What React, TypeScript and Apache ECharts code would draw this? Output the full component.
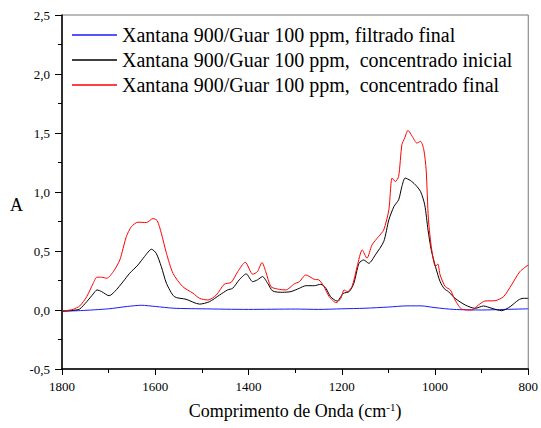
import React, { useEffect, useRef } from "react";
import * as echarts from "echarts";

const seriesNames = [
  "Xantana 900/Guar 100 ppm, filtrado final",
  "Xantana 900/Guar 100 ppm,  concentrado inicial",
  "Xantana 900/Guar 100 ppm,  concentrado final",
];

const blueWn = [1800, 1760, 1700, 1660, 1630, 1600, 1560, 1500, 1400, 1300, 1250, 1200, 1150, 1100, 1060, 1030, 1000, 960, 900, 850, 800];
const blueVal = [-0.01, -0.005, 0.01, 0.03, 0.04, 0.03, 0.015, 0.01, 0.005, 0.008, 0.005, 0.01, 0.015, 0.025, 0.035, 0.035, 0.02, 0.005, 0.0, 0.005, 0.01];

const blackWn = [1800, 1780, 1770, 1762, 1747, 1733, 1725, 1715, 1699, 1687, 1669, 1655, 1637, 1623, 1608, 1598, 1587, 1576, 1559, 1534, 1505, 1484, 1462, 1445, 1434, 1420, 1405, 1391, 1381, 1370, 1359, 1348, 1327, 1309, 1291, 1277, 1259, 1245, 1234, 1224, 1210, 1197, 1184, 1174, 1163, 1153, 1142, 1128, 1110, 1099, 1088, 1078, 1071, 1064, 1053, 1042, 1031, 1022, 1015, 1008, 999, 989, 980, 971, 957, 935, 914, 896, 878, 857, 839, 821, 811, 800];
const blackVal = [-0.01, -0.005, 0.0, 0.008, 0.07, 0.136, 0.17, 0.156, 0.121, 0.156, 0.24, 0.311, 0.382, 0.453, 0.515, 0.481, 0.368, 0.227, 0.113, 0.091, 0.05, 0.07, 0.127, 0.17, 0.184, 0.255, 0.306, 0.24, 0.255, 0.283, 0.227, 0.161, 0.15, 0.156, 0.184, 0.206, 0.206, 0.218, 0.184, 0.113, 0.075, 0.14, 0.156, 0.227, 0.396, 0.424, 0.396, 0.467, 0.58, 0.764, 0.877, 0.934, 1.047, 1.118, 1.098, 1.061, 1.004, 0.891, 0.679, 0.509, 0.368, 0.24, 0.18, 0.155, 0.099, 0.042, 0.014, 0.034, 0.014, -0.006, 0.028, 0.085, 0.099, 0.099];

const redWn = [1800, 1790, 1776, 1762, 1747, 1733, 1725, 1715, 1704, 1690, 1676, 1662, 1651, 1637, 1619, 1605, 1596, 1587, 1576, 1562, 1541, 1519, 1505, 1487, 1469, 1452, 1437, 1423, 1407, 1391, 1381, 1371, 1363, 1352, 1338, 1320, 1302, 1291, 1277, 1259, 1249, 1238, 1227, 1212, 1202, 1195, 1188, 1178, 1167, 1156, 1146, 1135, 1121, 1110, 1099, 1092, 1085, 1078, 1071, 1065, 1058, 1048, 1039, 1031, 1024, 1019, 1014, 1007, 999, 994, 989, 978, 967, 957, 942, 921, 907, 893, 871, 853, 836, 818, 800];
const redVal = [-0.01, -0.005, 0.006, 0.034, 0.113, 0.227, 0.278, 0.278, 0.269, 0.325, 0.424, 0.622, 0.707, 0.744, 0.741, 0.775, 0.758, 0.651, 0.481, 0.311, 0.198, 0.142, 0.099, 0.085, 0.127, 0.218, 0.235, 0.325, 0.405, 0.303, 0.325, 0.402, 0.325, 0.198, 0.178, 0.17, 0.221, 0.24, 0.297, 0.26, 0.255, 0.198, 0.113, 0.062, 0.099, 0.17, 0.156, 0.198, 0.368, 0.509, 0.439, 0.552, 0.622, 0.679, 0.849, 1.118, 1.089, 1.132, 1.401, 1.457, 1.522, 1.466, 1.415, 1.429, 1.358, 1.188, 0.764, 0.509, 0.368, 0.39, 0.297, 0.198, 0.17, 0.085, 0.006, 0.0, 0.042, 0.076, 0.079, 0.113, 0.212, 0.325, 0.382];

const colors = ["#1a1aff", "#000000", "#ff0000"];

const pair = (xs: number[], ys: number[]) => xs.map((x, i) => [x, ys[i]]);

const FONT = "'Liberation Serif', 'Times New Roman', 'DejaVu Serif', serif";

export default function App() {
  const ref = useRef<HTMLDivElement>(null);
  useEffect(() => {
    if (!ref.current) return;
    const chart = echarts.init(ref.current, null, { renderer: "svg" });
    const datasets = [pair(blueWn, blueVal), pair(blackWn, blackVal), pair(redWn, redVal)];
    chart.setOption({
      animation: false,
      backgroundColor: "#ffffff",
      textStyle: { fontFamily: FONT, color: "#000" },
      grid: {
        left: 62,
        right: 11,
        top: 15,
        bottom: 59,
        show: true,
        borderColor: "#777777",
        borderWidth: 1,
      },
      legend: {
        orient: "vertical",
        left: 72,
        top: 25,
        padding: 0,
        itemGap: 5,
        itemWidth: 45,
        itemHeight: 1.5,
        icon: "rect",
        data: seriesNames,
        textStyle: { fontFamily: FONT, fontSize: 20, color: "#000" },
      },
      xAxis: {
        type: "value",
        inverse: true,
        min: 800,
        max: 1800,
        interval: 200,
        name: "Comprimento de Onda (cm{sup|-1})",
        nameLocation: "middle",
        nameGap: 32,
        nameTextStyle: {
          fontFamily: FONT,
          fontSize: 18,
          color: "#000",
          rich: { sup: { fontFamily: FONT, fontSize: 11, verticalAlign: "top", padding: [0, 0, 8, 0], color: "#000" } },
        },
        axisLine: { show: true, onZero: false, lineStyle: { color: "#000", width: 1.5 } },
        axisTick: { show: true, inside: false, length: 6, lineStyle: { color: "#000" } },
        minorTick: { show: true, splitNumber: 2, length: 4, lineStyle: { color: "#000" } },
        splitLine: { show: false },
        axisLabel: {
          fontFamily: FONT,
          fontSize: 13,
          color: "#000",
          margin: 11,
          formatter: (v: number) => String(v),
        },
      },
      yAxis: {
        type: "value",
        min: -0.5,
        max: 2.5,
        interval: 0.5,
        axisLine: { show: true, onZero: false, lineStyle: { color: "#000", width: 1.5 } },
        axisTick: { show: true, inside: false, length: 7, lineStyle: { color: "#000" } },
        minorTick: { show: true, splitNumber: 2, length: 4, lineStyle: { color: "#000" } },
        splitLine: { show: false },
        axisLabel: {
          fontFamily: FONT,
          fontSize: 13,
          color: "#000",
          margin: 12,
          formatter: (v: number) => v.toFixed(1).replace(".", ","),
        },
      },
      graphic: [
        {
          type: "text",
          left: 10,
          top: 196,
          style: { text: "A", fontFamily: FONT, fontSize: 18, fill: "#000" },
        },
      ],
      series: seriesNames.map((name, i) => ({
        name,
        type: "line",
        data: datasets[i],
        showSymbol: false,
        symbol: "none",
        smooth: 0.25,
        color: colors[i],
        lineStyle: { color: colors[i], width: 1 },
      })),
    });
    return () => chart.dispose();
  }, []);
  return (
    <div
      ref={ref}
      style={{ position: "fixed", left: 0, top: 0, width: 541, height: 428 }}
    />
  );
}
